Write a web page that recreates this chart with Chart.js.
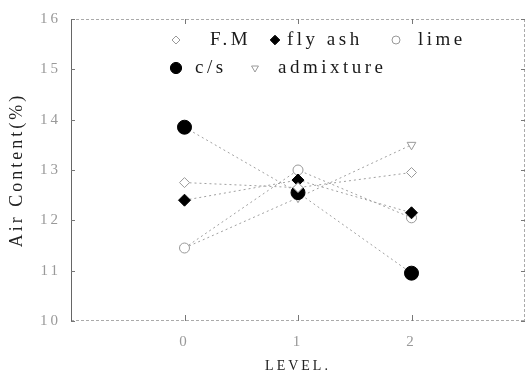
<!DOCTYPE html>
<html>
<head>
<meta charset="utf-8">
<script src="https://cdn.jsdelivr.net/npm/chart.js@4/dist/chart.umd.min.js"></script>
<style>
  html, body { margin: 0; padding: 0; background: #fff; overflow: hidden; }
  #airChart { display: block; }
</style>
</head>
<body>
<canvas id="airChart" width="527" height="379"></canvas>
<script>
// Air content vs. level
const levels = [0, 1, 2];
const yTicks = [10, 11, 12, 13, 14, 15, 16];

const fmValues = [12.75, 12.65, 12.95];
const flyAshValues = [12.4, 12.8, 12.15];
const limeValues = [11.45, 13.0, 12.05];
const csValues = [13.85, 12.55, 10.95];
const admixtureValues = [11.45, 12.45, 13.5];

const seriesNames = ['F.M', 'fly ash', 'lime', 'c/s', 'admixture'];

function toPoints(vals) {
  return levels.map((x, i) => ({ x: x, y: vals[i] }));
}

// big markers would otherwise push the plot's right edge inwards
Chart.registry.getController('scatter').prototype.getMaxOverflow = function () { return 0; };

const lineStyle = {
  showLine: true,
  borderColor: '#a0a0a0',
  borderWidth: 1,
  borderDash: [2, 3]
};

const datasets = [
  Object.assign({ label: seriesNames[0], data: toPoints(fmValues),
    pointStyle: 'rectRot', pointRadius: 5, pointBackgroundColor: '#fff',
    pointBorderColor: '#999', pointBorderWidth: 1 }, lineStyle),
  Object.assign({ label: seriesNames[1], data: toPoints(flyAshValues),
    pointStyle: 'rectRot', pointRadius: 6, pointBackgroundColor: '#000',
    pointBorderColor: '#000', pointBorderWidth: 1 }, lineStyle),
  Object.assign({ label: seriesNames[2], data: toPoints(limeValues),
    pointStyle: 'circle', pointRadius: 5, pointBackgroundColor: '#fff',
    pointBorderColor: '#999', pointBorderWidth: 1 }, lineStyle),
  Object.assign({ label: seriesNames[3], data: toPoints(csValues),
    pointStyle: 'circle', pointRadius: 7, pointBackgroundColor: '#000',
    pointBorderColor: '#000', pointBorderWidth: 1 }, lineStyle),
  Object.assign({ label: seriesNames[4], data: toPoints(admixtureValues),
    pointStyle: 'triangle', rotation: 180, pointRadius: 5, pointBackgroundColor: '#fff',
    pointBorderColor: '#999', pointBorderWidth: 1 }, lineStyle)
];

// legend layout: [dataset index, marker x, text x, row y]
const legendSlots = [
  [0, 176, 210, 40], [1, 275, 287, 40], [2, 396, 418, 40],
  [3, 176, 195, 68], [4, 255, 278, 68]
];

const spacing = chart => { chart.ctx.letterSpacing = '3px'; };

// frame, inward ticks and the two-row legend
const framePlugin = {
  id: 'frame',
  beforeInit: spacing,
  beforeUpdate: spacing,
  beforeDraw: spacing,
  beforeDatasetsDraw(chart) {
    const { ctx, chartArea: a, scales } = chart;
    ctx.save();
    ctx.lineWidth = 1;
    ctx.strokeStyle = '#aaa';
    ctx.setLineDash([3, 2]);
    ctx.beginPath();
    ctx.moveTo(a.left, a.top + 0.5); ctx.lineTo(a.right, a.top + 0.5);
    ctx.moveTo(a.right - 0.5, a.top); ctx.lineTo(a.right - 0.5, a.bottom);
    ctx.moveTo(a.left, a.bottom - 0.5); ctx.lineTo(a.right, a.bottom - 0.5);
    ctx.stroke();
    ctx.setLineDash([]);
    ctx.strokeStyle = '#666';
    ctx.beginPath();
    ctx.moveTo(a.left + 0.5, a.top); ctx.lineTo(a.left + 0.5, a.bottom);
    ctx.stroke();
    ctx.strokeStyle = '#777';
    ctx.beginPath();
    levels.forEach(v => {
      const px = Math.round(scales.x.getPixelForValue(v)) + 0.5;
      ctx.moveTo(px, a.bottom); ctx.lineTo(px, a.bottom - 6);
      ctx.moveTo(px, a.top); ctx.lineTo(px, a.top + 5);
    });
    yTicks.forEach(v => {
      const py = Math.round(scales.y.getPixelForValue(v)) + 0.5;
      ctx.moveTo(a.left, py); ctx.lineTo(a.left + 4, py);
      ctx.moveTo(a.right, py); ctx.lineTo(a.right - 4, py);
    });
    ctx.stroke();
    ctx.restore();
  },
  afterDraw(chart) {
    const { ctx } = chart;
    ctx.save();
    ctx.font = '19px "Liberation Serif", serif';
    ctx.letterSpacing = '3.5px';
    ctx.textBaseline = 'middle';
    legendSlots.forEach(([i, mx, tx, y]) => {
      const ds = chart.data.datasets[i];
      ctx.fillStyle = ds.pointBackgroundColor;
      ctx.strokeStyle = ds.pointBorderColor;
      ctx.lineWidth = 1;
      Chart.helpers.drawPoint(ctx, {
        pointStyle: ds.pointStyle,
        rotation: ds.rotation || 0,
        radius: ds.pointRadius * 0.8,
        borderWidth: 1
      }, mx, y);
      ctx.fillStyle = '#1a1a1a';
      ctx.fillText(ds.label, tx, y);
    });
    ctx.restore();
  }
};

new Chart(document.getElementById('airChart'), {
  type: 'scatter',
  data: { datasets: datasets },
  plugins: [framePlugin],
  options: {
    responsive: false,
    animation: false,
    layout: { padding: { top: 17, right: 2, left: 0, bottom: 0 } },
    plugins: { legend: { display: false }, tooltip: { enabled: false } },
    scales: {
      x: {
        type: 'linear',
        min: -1,
        max: 3,
        afterBuildTicks: s => { s.ticks = levels.map(v => ({ value: v })); },
        afterFit: s => { s.height = 58; s.paddingLeft = 0; s.paddingRight = 0; },
        grid: { display: false, drawTicks: false },
        border: { display: false },
        ticks: {
          padding: 12,
          color: '#999',
          font: { family: '"Liberation Serif", serif', size: 15 }
        },
        title: {
          display: true,
          text: 'LEVEL.',
          color: '#222',
          font: { family: '"Liberation Serif", serif', size: 14 },
          padding: { top: 2, bottom: 4 }
        }
      },
      y: {
        min: 10,
        max: 16,
        afterBuildTicks: s => { s.ticks = yTicks.map(v => ({ value: v })); },
        afterFit: s => { s.width = 71; },
        grid: { display: false, drawTicks: false },
        border: { display: false },
        ticks: {
          padding: 10,
          color: '#999',
          font: { family: '"Liberation Serif", serif', size: 15 }
        },
        title: {
          display: true,
          text: 'Air Content(%)',
          color: '#222',
          font: { family: '"Liberation Serif", serif', size: 18 },
          padding: { top: 6, bottom: 2 }
        }
      }
    }
  }
});
</script>
</body>
</html>
